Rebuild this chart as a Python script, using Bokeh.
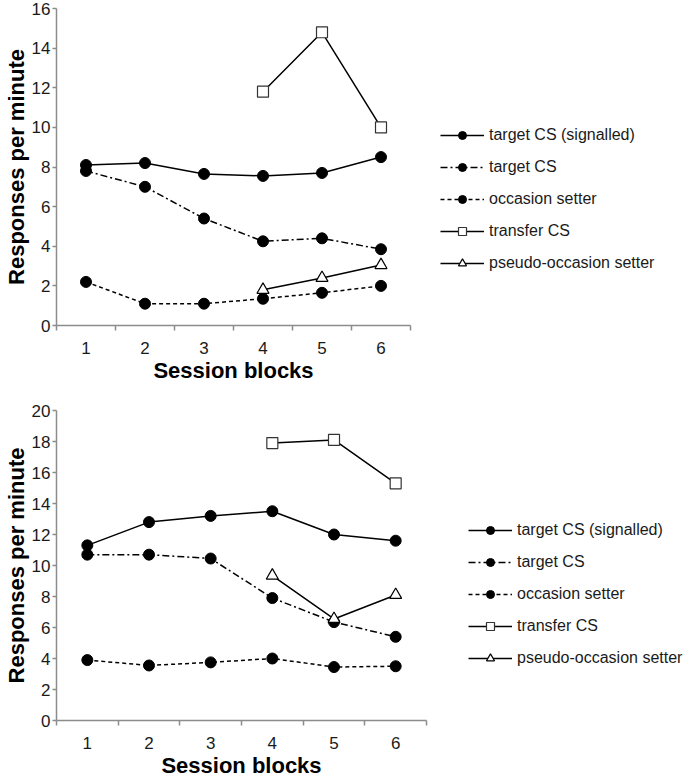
from bokeh.plotting import figure
from bokeh.layouts import column
from bokeh.models import Range1d, FixedTicker, Legend, LegendItem
from bokeh.embed import file_html
from bokeh.resources import INLINE

# ---- data ----
blocks = [1, 2, 3, 4, 5, 6]
late_blocks = [4, 5, 6]
series_names = ["target CS (signalled)", "target CS", "occasion setter",
                "transfer CS", "pseudo-occasion setter"]

top_signalled = [8.1, 8.2, 7.65, 7.55, 7.7, 8.5]
top_target = [7.8, 7.0, 5.4, 4.25, 4.4, 3.85]
top_occasion = [2.2, 1.1, 1.1, 1.35, 1.65, 2.0]
top_transfer = [11.8, 14.8, 10.0]
top_pseudo = [1.8, 2.4, 3.05]
top_yticks = [0, 2, 4, 6, 8, 10, 12, 14, 16]

bot_signalled = [11.3, 12.8, 13.2, 13.5, 12.0, 11.6]
bot_target = [10.7, 10.7, 10.45, 7.9, 6.35, 5.4]
bot_occasion = [3.9, 3.55, 3.75, 4.0, 3.45, 3.5]
bot_transfer = [17.9, 18.1, 15.3]
bot_pseudo = [9.35, 6.55, 8.1]
bot_yticks = [0, 2, 4, 6, 8, 10, 12, 14, 16, 18, 20]

x_bounds = [0.5, 1.5, 2.5, 3.5, 4.5, 5.5, 6.5]

FONT = "Liberation Sans"
AX = "#8c8c8c"


def make_plot(signalled, target, occasion, transfer, pseudo, yticks,
              b_left, f_w, b_top, f_h, b_bottom, total_w, leg_loc):
    p = figure(frame_width=f_w, frame_height=f_h,
               min_border_left=b_left, min_border_right=total_w - b_left - f_w,
               min_border_top=b_top, min_border_bottom=b_bottom,
               x_range=Range1d(0.5, 6.5), y_range=Range1d(0, yticks[-1]),
               output_backend="svg", toolbar_location=None)
    p.outline_line_color = None
    p.xgrid.visible = False
    p.ygrid.visible = False
    p.background_fill_color = "white"

    # x axis
    xa = p.xaxis[0]
    xa.ticker = FixedTicker(ticks=blocks, minor_ticks=x_bounds)
    xa.major_tick_out = 0
    xa.major_tick_in = 0
    xa.minor_tick_out = 5
    xa.minor_tick_in = 0
    xa.minor_tick_line_color = AX
    xa.minor_tick_line_width = 1.5
    xa.axis_line_color = AX
    xa.axis_line_width = 1.5
    xa.major_label_standoff = 11
    xa.major_label_text_font = FONT
    xa.major_label_text_font_size = "17px"
    xa.major_label_text_color = "#1a1a1a"
    xa.axis_label = "Session blocks"
    xa.axis_label_text_font = FONT
    xa.axis_label_text_font_style = "bold"
    xa.axis_label_text_font_size = "22px"
    xa.axis_label_text_color = "black"
    xa.axis_label_standoff = 1

    # y axis
    ya = p.yaxis[0]
    ya.ticker = FixedTicker(ticks=yticks, minor_ticks=[])
    ya.major_tick_out = 4
    ya.major_tick_in = 0
    ya.major_tick_line_color = AX
    ya.major_tick_line_width = 1.5
    ya.axis_line_color = AX
    ya.axis_line_width = 1.5
    ya.major_label_standoff = 2
    ya.major_label_text_font = FONT
    ya.major_label_text_font_size = "17px"
    ya.major_label_text_color = "#1a1a1a"
    ya.axis_label = "Responses per minute"
    ya.axis_label_text_font = FONT
    ya.axis_label_text_font_style = "bold"
    ya.axis_label_text_font_size = "22px"
    ya.axis_label_text_color = "black"
    ya.axis_label_standoff = 0

    l1 = p.line(blocks, signalled, line_color="black", line_width=1.5)
    s1 = p.scatter(blocks, signalled, marker="circle", size=11,
                   fill_color="black", line_color="black")
    l2 = p.line(blocks, target, line_color="black", line_width=1.5, line_dash="7 3 2 3")
    s2 = p.scatter(blocks, target, marker="circle", size=11,
                   fill_color="black", line_color="black")
    l3 = p.line(blocks, occasion, line_color="black", line_width=1.5, line_dash="4 3")
    s3 = p.scatter(blocks, occasion, marker="circle", size=11,
                   fill_color="black", line_color="black")
    l4 = p.line(late_blocks, transfer, line_color="black", line_width=1.5)
    s4 = p.scatter(late_blocks, transfer, marker="square", size=11,
                   fill_color="white", line_color="#333333", line_width=1.2)
    l5 = p.line(late_blocks, pseudo, line_color="black", line_width=1.5)
    s5 = p.scatter(late_blocks, pseudo, marker="triangle", size=12,
                   fill_color="white", line_color="black", line_width=1.2)

    items = [LegendItem(label=series_names[0], renderers=[l1, s1]),
             LegendItem(label=series_names[1], renderers=[l2, s2]),
             LegendItem(label=series_names[2], renderers=[l3, s3]),
             LegendItem(label=series_names[3], renderers=[l4, s4]),
             LegendItem(label=series_names[4], renderers=[l5, s5])]
    leg = Legend(items=items, location=leg_loc, orientation="vertical",
                 glyph_width=44, glyph_height=20, label_height=20,
                 label_width=20, spacing=12, padding=0, margin=0,
                 label_standoff=5, border_line_color=None,
                 background_fill_alpha=0,
                 label_text_font=FONT, label_text_font_size="16px",
                 label_text_color="#1a1a1a")
    p.add_layout(leg, "right")
    return p


p1 = make_plot(top_signalled, top_target, top_occasion, top_transfer, top_pseudo,
               top_yticks, b_left=47, f_w=354, b_top=8, f_h=317, b_bottom=65,
               total_w=676, leg_loc=(30, 52))
p2 = make_plot(bot_signalled, bot_target, bot_occasion, bot_transfer, bot_pseudo,
               bot_yticks, b_left=48, f_w=370, b_top=20, f_h=310, b_bottom=54,
               total_w=676, leg_loc=(42, 52))

layout = column(p1, p2, spacing=0)
open("out.html", "w").write(file_html(layout, INLINE))
